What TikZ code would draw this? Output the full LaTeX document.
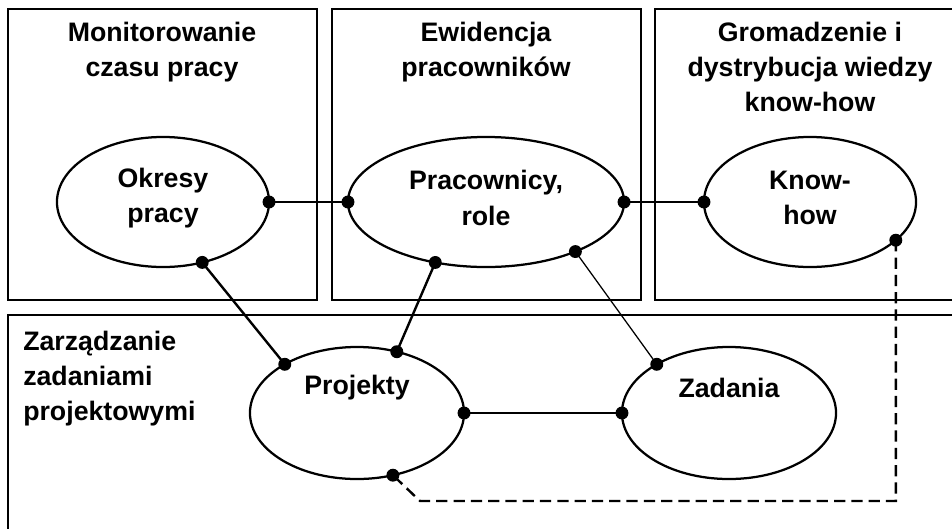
\documentclass[tikz,border=0pt]{standalone}
\usepackage{fontspec}
\setmainfont{Liberation Sans}
\usetikzlibrary{shapes.geometric}
\usetikzlibrary{positioning}

\tikzset{
	area/.style={draw, line width=1.7pt},
	blob/.style={draw, ellipse, line width=1.6pt, inner sep=0pt, outer sep=0pt},
	title/.style={align=center, inner sep=0pt, font=\fontsize{19}{25}\selectfont\bfseries},
	link/.style={line width=1.7pt},
	thinlink/.style={line width=0.9pt},
	pin/.style={fill=black}
}

\begin{document}
\begin{tikzpicture}[x=0.025cm, y=-0.025cm]
	\useasboundingbox (0,0) rectangle (952,528);
	\clip (0,0) rectangle (952,528);
	% draw areas
	\draw[area] (8,9) rectangle (317,300);
	\draw[area] (332,9) rectangle (641,300);
	\draw[area] (655,9) rectangle (970,300);
	\draw[area] (8,315) rectangle (970,545);
	% area titles
	\node[title, anchor=north] (montxt) at (162,22) {Monitorowanie\\czasu pracy};
	\node[title, anchor=north] (ewitxt) at (486,22) {Ewidencja\\pracowników};
	\node[title, anchor=north] (gromtxt) at (810,22) {Gromadzenie i\\dystrybucja wiedzy\\know-how};
	\node[title, align=left, anchor=north west] (zartxt) at (23,331) {Zarządzanie\\zadaniami\\projektowymi};
	% draw ellipses
	\node[blob, minimum width=5.3cm, minimum height=3.25cm] (okr) at (163,202) {};
	\node[blob, minimum width=6.9cm, minimum height=3.25cm] (prac) at (486,202) {};
	\node[blob, minimum width=5.3cm, minimum height=3.25cm] (kh) at (810,202) {};
	\node[blob, minimum width=5.35cm, minimum height=3.3cm] (proj) at (357,413) {};
	\node[blob, minimum width=5.35cm, minimum height=3.3cm] (zad) at (729,413) {};
	\node[title] (okrtxt) at (163,198) {Okresy\\pracy};
	\node[title] (practxt) at (486,198) {Pracownicy,\\role};
	\node[title] (khtxt) at (810,198) {Know-\\how};
	\node[title] (projtxt) at (357,388) {Projekty};
	\node[title] (zadtxt) at (729,388) {Zadania};
	% connectors
	\draw[link] (okr.east) -- (prac.west);
	\draw[link] (prac.east) -- (kh.west);
	\draw[link] (okr.-57) -- (proj.146);
	\draw[link] (prac.-130) -- (proj.57);
	\draw[thinlink] (prac.-29) -- (zad.146);
	\draw[link] (proj.east) -- (zad.west);
	\coordinate (bend) at (420,501);
	\draw[link, dash pattern=on 8pt off 4.3pt] (kh.-24) |- (bend) -- (proj.-60);
	% draw points
	\foreach \p in {okr.east, okr.-57, prac.west, prac.east, prac.-130, prac.-29, kh.west, kh.-24, proj.146, proj.57, proj.east, proj.-60, zad.west, zad.146}
		\fill[pin] (\p) circle (4.6pt);
\end{tikzpicture}
\end{document}
